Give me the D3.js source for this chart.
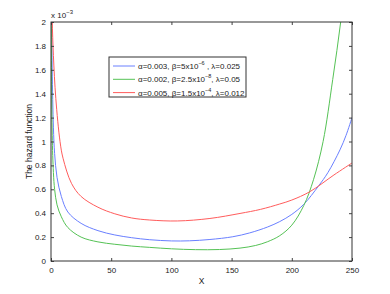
<!DOCTYPE html>
<html>
<head>
<meta charset="utf-8">
<script src="https://cdn.jsdelivr.net/npm/d3@7"></script>
<style>
  body { margin: 0; background: #fff; }
  svg { display: block; font-family: "Liberation Sans", Arial, sans-serif; }
</style>
</head>
<body>
<div id="chart"></div>
<script>
// values (y in units of 1e-3)
const xTicks = [0, 50, 100, 150, 200, 250];
const yTicks = [0, 0.2, 0.4, 0.6, 0.8, 1, 1.2, 1.4, 1.6, 1.8, 2];

const blueX = [0.4, 0.6, 1, 2, 3, 5, 8.6, 14, 25, 39, 53, 67, 82, 100, 115, 132, 151, 165, 180, 190, 200, 210, 222, 230, 240, 245, 250];
const blueY = [2.5, 2.0, 1.6, 1.12, 0.9, 0.7, 0.54, 0.41, 0.315, 0.254, 0.218, 0.195, 0.178, 0.168, 0.169, 0.18, 0.203, 0.235, 0.285, 0.33, 0.39, 0.475, 0.625, 0.74, 0.93, 1.05, 1.2];

const greenX = [0.25, 0.3, 0.5, 1, 2, 3, 5, 8.6, 14, 25, 39, 53, 67, 82, 100, 120, 140, 157, 170, 180, 190, 200, 210, 218, 226, 234, 240.6, 246];
const greenY = [2.1, 1.95, 1.5, 1.05, 0.74, 0.6, 0.47, 0.37, 0.28, 0.2, 0.16, 0.14, 0.125, 0.114, 0.102, 0.095, 0.096, 0.108, 0.13, 0.162, 0.212, 0.3, 0.465, 0.68, 1.0, 1.52, 2.0, 2.5];

const redX = [0.5, 1, 2, 4, 7.5, 10, 17, 25, 39, 53, 67, 82, 105, 132, 157, 174, 190, 200, 215, 235, 250];
const redY = [2.4, 2.02, 1.72, 1.36, 1.0, 0.86, 0.65, 0.54, 0.45, 0.395, 0.36, 0.343, 0.335, 0.356, 0.398, 0.432, 0.477, 0.51, 0.58, 0.72, 0.82];

const seriesNames = [
  ["α=0.003, β=5x10", "−6", " ,  λ=0.025"],
  ["α=0.002, β=2.5x10", "−8", ", λ=0.05"],
  ["α=0.005, β=1.5x10", "−4", ", λ=0.012"]
];
const seriesColors = ["#6a80ff", "#55c255", "#ff5c5c"];

const series = [
  blueX.map((x, i) => ({x, y: blueY[i]})),
  greenX.map((x, i) => ({x, y: greenY[i]})),
  redX.map((x, i) => ({x, y: redY[i]}))
];

const width = 390, height = 294;
const margin = {top: 22, right: 38, bottom: 33, left: 51};
const iw = width - margin.left - margin.right;
const ih = height - margin.top - margin.bottom;

const svg = d3.select("#chart").append("svg")
  .attr("width", width).attr("height", height);

const x = d3.scaleLinear().domain([0, 250]).range([0, iw]);
const y = d3.scaleLinear().domain([0, 2]).range([ih, 0]);

const g = svg.append("g").attr("transform", `translate(${margin.left},${margin.top})`);

g.append("clipPath").attr("id", "clip")
  .append("rect").attr("width", iw).attr("height", ih);

// lines
const line = d3.line().x(d => x(d.x)).y(d => y(d.y)).curve(d3.curveCatmullRom.alpha(0.5));
g.append("g").attr("clip-path", "url(#clip)")
  .selectAll("path").data(series).join("path")
  .attr("d", line)
  .attr("fill", "none")
  .attr("stroke", (d, i) => seriesColors[i])
  .attr("stroke-width", 1);

// axes, ticks inside like matlab
const tickFmt = d => d3.format("")(+d.toFixed(1));
const axisStyle = sel => {
  sel.select(".domain").remove();
  sel.selectAll("line").attr("stroke", "#444");
  sel.selectAll("text").attr("fill", "#222").style("font-size", "8px");
};
g.append("g").attr("transform", `translate(0,${ih})`)
  .call(d3.axisBottom(x).tickValues(xTicks).tickSize(-3).tickPadding(6))
  .call(axisStyle);
g.append("g")
  .call(d3.axisLeft(y).tickValues(yTicks).tickSize(-3).tickPadding(5).tickFormat(tickFmt))
  .call(axisStyle);
g.append("g")
  .call(d3.axisTop(x).tickValues(xTicks).tickSize(-3).tickFormat(""))
  .call(axisStyle);
g.append("g").attr("transform", `translate(${iw},0)`)
  .call(d3.axisRight(y).tickValues(yTicks).tickSize(-3).tickFormat(""))
  .call(axisStyle);

g.append("rect").attr("width", iw).attr("height", ih)
  .attr("fill", "none").attr("stroke", "#333").attr("stroke-width", 1);

// exponent label
const ex = g.append("text").attr("x", 0).attr("y", -4)
  .attr("fill", "#222").style("font-size", "8px").text("x 10");
ex.append("tspan").attr("dy", -4).style("font-size", "6px").text("−3");

// axis titles
svg.append("text").attr("x", margin.left + iw / 2).attr("y", 284)
  .attr("text-anchor", "middle").attr("fill", "#222").style("font-size", "8.5px").text("X");
svg.append("text")
  .attr("transform", `translate(32,${margin.top + ih / 2}) rotate(-90)`)
  .attr("text-anchor", "middle").attr("fill", "#222").style("font-size", "8.5px")
  .text("The hazard function");

// legend
const lg = svg.append("g").attr("transform", "translate(109,57)");
lg.append("rect").attr("width", 137).attr("height", 40)
  .attr("fill", "#fff").attr("stroke", "#333").attr("stroke-width", 1);
const rows = lg.selectAll("g.row").data(seriesNames).join("g")
  .attr("class", "row")
  .attr("transform", (d, i) => `translate(0,${9 + i * 13.3})`);
rows.append("line").attr("x1", 4).attr("x2", 26)
  .attr("stroke", (d, i) => seriesColors[i]).attr("stroke-width", 1);
const lt = rows.append("text").attr("x", 29).attr("y", 3)
  .attr("fill", "#222").style("font-size", "8px");
lt.append("tspan").text(d => d[0]);
lt.append("tspan").attr("dy", -4).style("font-size", "5.5px").text(d => d[1]);
lt.append("tspan").attr("dy", 4).text(d => d[2]);
</script>
</body>
</html>
